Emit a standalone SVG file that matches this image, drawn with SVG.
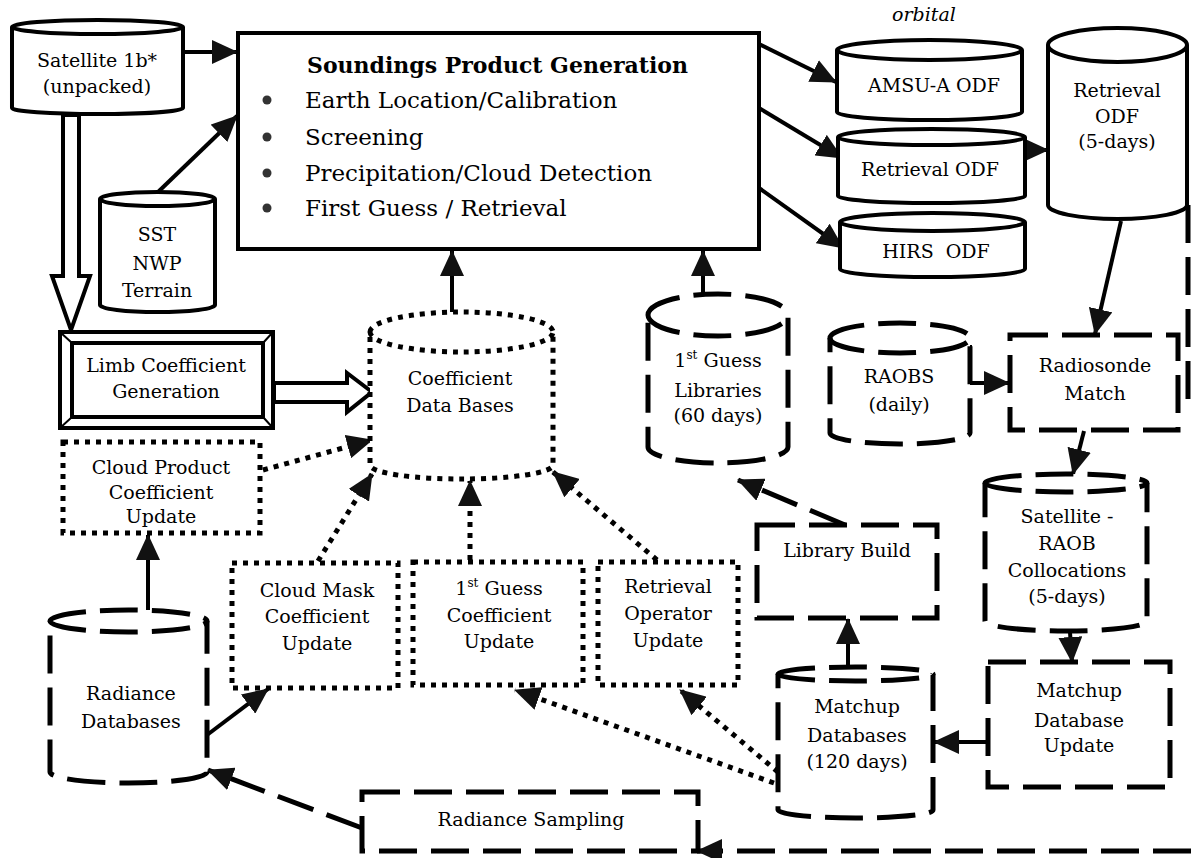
<svg xmlns="http://www.w3.org/2000/svg" width="1191" height="858" viewBox="0 0 1191 858">
  <defs>
    <marker id="ah" markerUnits="userSpaceOnUse" markerWidth="26" markerHeight="24" refX="25" refY="12" orient="auto">
      <path d="M0,0 L26,12 L0,24 Z" fill="#111"/>
    </marker>
    <style>
      .box { fill: #fff; stroke: #000; stroke-width: 4; }
      .solid { fill: none; stroke: #000; stroke-width: 4; }
      .dash { fill: none; stroke: #000; stroke-width: 5; stroke-dasharray: 38 14; }
      .dashbox { fill: #fff; stroke: #000; stroke-width: 5; stroke-dasharray: 38 14; }
      .dot { fill: none; stroke: #000; stroke-width: 5; stroke-dasharray: 5 6; }
      .dotbox { fill: #fff; stroke: #000; stroke-width: 5; stroke-dasharray: 5 6; }
      .hollow { fill: #fff; stroke: #000; stroke-width: 4; stroke-linejoin: miter; }
      text { font-family: "DejaVu Serif", "Liberation Serif", serif; font-size: 19px; text-anchor: middle; fill: #000; }
      .title { font-size: 22px; font-weight: bold; text-anchor: start; }
      .item { font-size: 23px; text-anchor: start; }
      .sup { font-size: 12px; }
    </style>
  </defs>

  <rect width="1191" height="858" fill="#fff"/>

  <!-- data flow connectors -->
  <g id="connectors">
    <line class="solid" x1="184" y1="52" x2="237" y2="52" marker-end="url(#ah)"/>
    <line class="solid" x1="157" y1="193" x2="237" y2="116" marker-end="url(#ah)"/>
    <line class="solid" x1="452" y1="312" x2="452" y2="251" marker-end="url(#ah)"/>
    <line class="solid" x1="703" y1="294" x2="703" y2="251" marker-end="url(#ah)"/>
    <line class="solid" x1="759" y1="44" x2="836" y2="82" marker-end="url(#ah)"/>
    <line class="solid" x1="759" y1="108" x2="842" y2="158" marker-end="url(#ah)"/>
    <line class="solid" x1="759" y1="188" x2="843" y2="248" marker-end="url(#ah)"/>
    <line class="solid" x1="1025" y1="150" x2="1048" y2="150" marker-end="url(#ah)"/>
    <line class="solid" x1="1121" y1="221" x2="1095" y2="334" marker-end="url(#ah)"/>
    <polyline class="solid" points="970,345 970,383 1009,383" marker-end="url(#ah)"/>
    <line class="solid" x1="1084" y1="431" x2="1073" y2="474" marker-end="url(#ah)"/>
    <line class="solid" x1="1070" y1="632" x2="1072" y2="662" marker-end="url(#ah)"/>
    <line class="solid" x1="988" y1="742" x2="934" y2="742" marker-end="url(#ah)"/>
    <line class="solid" x1="848" y1="667" x2="848" y2="619" marker-end="url(#ah)"/>
    <line class="dash" x1="845" y1="525" x2="738" y2="480" marker-end="url(#ah)"/>
    <line class="dot" x1="774" y1="783" x2="515" y2="690" marker-end="url(#ah)"/>
    <line class="dot" x1="778" y1="772" x2="680" y2="690" marker-end="url(#ah)"/>
    <line class="dot" x1="657" y1="560" x2="553" y2="472" marker-end="url(#ah)"/>
    <line class="dot" x1="470" y1="560" x2="470" y2="481" marker-end="url(#ah)"/>
    <line class="dot" x1="318" y1="561" x2="372" y2="474" marker-end="url(#ah)"/>
    <line class="dot" x1="263" y1="470" x2="372" y2="440" marker-end="url(#ah)"/>
    <line class="solid" x1="207" y1="735" x2="268" y2="689" marker-end="url(#ah)"/>
    <line class="solid" x1="148" y1="610" x2="148" y2="535" marker-end="url(#ah)"/>
    <line class="dash" x1="362" y1="828" x2="208" y2="770" marker-end="url(#ah)"/>
    <path class="dash" d="M1188,205 V405"/>
    <line class="dash" x1="1191" y1="851" x2="697" y2="851" marker-end="url(#ah)"/>
  </g>

  <g id="satellite-1b">
    <path class="box" d="M12,27 A85.5,7 0 0 1 183,27 V108 A85.5,6 0 0 1 12,108 Z"/>
    <path class="solid" d="M12,27 A85.5,7 0 0 0 183,27"/>
    <text x="97" y="67">Satellite 1b*</text>
    <text x="97" y="93">(unpacked)</text>
  </g>
  <polygon id="sat-to-limb" class="hollow" points="63,115 63,276 52,276 71,330 90,276 79,276 79,115"/>

  <g id="soundings">
    <rect class="box" x="238" y="33" width="521" height="216"/>
    <text class="title" x="307" y="73">Soundings Product Generation</text>
    <circle cx="267" cy="100" r="4.5" fill="#333"/>
    <circle cx="267" cy="137" r="4.5" fill="#333"/>
    <circle cx="267" cy="173" r="4.5" fill="#333"/>
    <circle cx="267" cy="208" r="4.5" fill="#333"/>
    <text class="item" x="305" y="108">Earth Location/Calibration</text>
    <text class="item" x="305" y="145">Screening</text>
    <text class="item" x="305" y="181">Precipitation/Cloud Detection</text>
    <text class="item" x="305" y="216">First Guess / Retrieval</text>
  </g>

  <g id="sst-nwp-terrain">
    <path class="box" d="M100,199 A57.5,7 0 0 1 215,199 V305 A57.5,7 0 0 1 100,305 Z"/>
    <path class="solid" d="M100,199 A57.5,7 0 0 0 215,199"/>
    <text x="157" y="241" font-size="18">SST</text>
    <text x="157" y="270" font-size="18">NWP</text>
    <text x="157" y="297" font-size="17">Terrain</text>
  </g>

  <g id="orbital-label">
    <text x="924" y="21" font-size="16" font-style="italic">orbital</text>
  </g>

  <g id="amsu-a-odf">
    <path class="box" d="M837,50 A92.5,10 0 0 1 1022,50 V112 A92.5,8 0 0 1 837,112 Z"/>
    <path class="solid" d="M837,50 A92.5,10 0 0 0 1022,50"/>
    <text x="934" y="92" font-size="21">AMSU-A ODF</text>
  </g>

  <g id="retrieval-odf">
    <path class="box" d="M838,137 A93.5,8 0 0 1 1025,137 V196 A93.5,7 0 0 1 838,196 Z"/>
    <path class="solid" d="M838,137 A93.5,8 0 0 0 1025,137"/>
    <text x="930" y="176" font-size="17">Retrieval ODF</text>
  </g>

  <g id="hirs-odf">
    <path class="box" d="M840,222 A92.5,9 0 0 1 1025,222 V269 A92.5,8 0 0 1 840,269 Z"/>
    <path class="solid" d="M840,222 A92.5,9 0 0 0 1025,222"/>
    <text x="936" y="258" font-size="21" xml:space="preserve">HIRS  ODF</text>
  </g>

  <g id="retrieval-odf-5days">
    <path class="box" d="M1048,45 A69.5,17 0 0 1 1187,45 V205 A69.5,14 0 0 1 1048,205 Z"/>
    <path class="solid" d="M1048,45 A69.5,17 0 0 0 1187,45"/>
    <text x="1117" y="97">Retrieval</text>
    <text x="1117" y="123">ODF</text>
    <text x="1117" y="148">(5-days)</text>
  </g>

  <g id="limb-coefficient">
    <rect class="box" x="60" y="332" width="213" height="96" stroke-width="5"/>
    <rect class="box" x="72" y="343" width="191" height="74"/>
    <path d="M60,332 L72,343 M273,332 L263,343 M60,428 L72,417 M273,428 L263,417" stroke="#000" stroke-width="2"/>
    <text x="166" y="372" font-size="16">Limb Coefficient</text>
    <text x="166" y="398" font-size="18">Generation</text>
  </g>
  <polygon id="limb-to-coeff" class="hollow" points="274,383 347,383 347,373 372,392 347,412 347,402 274,402"/>

  <g id="coefficient-databases">
    <path class="dotbox" d="M370,332 A91.5,20 0 0 1 553,332 V465 A91.5,14 0 0 1 370,465 Z"/>
    <path class="dot" d="M370,332 A91.5,20 0 0 0 553,332"/>
    <text x="460" y="385">Coefficient</text>
    <text x="460" y="412">Data Bases</text>
  </g>

  <g id="first-guess-libraries">
    <path class="dashbox" d="M648,315 A70,21 0 0 1 788,315 V447 A70,16 0 0 1 648,447 Z"/>
    <path class="dash" d="M648,315 A70,21 0 0 0 788,315"/>
    <text x="718" y="367">1<tspan class="sup" dy="-8">st</tspan><tspan dy="8"> Guess</tspan></text>
    <text x="718" y="397">Libraries</text>
    <text x="718" y="422">(60 days)</text>
  </g>

  <g id="raobs">
    <path class="dashbox" d="M830,338 A70,15 0 0 1 970,338 V433 A70,11 0 0 1 830,433 Z"/>
    <path class="dash" d="M830,338 A70,15 0 0 0 970,338"/>
    <text x="899" y="383" font-size="20">RAOBS</text>
    <text x="899" y="411" font-size="20">(daily)</text>
  </g>

  <g id="radiosonde-match">
    <rect class="dashbox" x="1010" y="335" width="168" height="95"/>
    <text x="1095" y="372">Radiosonde</text>
    <text x="1095" y="400">Match</text>
  </g>

  <g id="satellite-raob-collocations">
    <path class="dashbox" d="M985,483 A81,9 0 0 1 1147,483 V621 A81,10 0 0 1 985,621 Z"/>
    <path class="dash" d="M985,483 A81,9 0 0 0 1147,483"/>
    <text x="1067" y="523">Satellite -</text>
    <text x="1067" y="550">RAOB</text>
    <text x="1067" y="577">Collocations</text>
    <text x="1067" y="603">(5-days)</text>
  </g>

  <g id="library-build">
    <rect class="dashbox" x="757" y="525" width="180" height="93"/>
    <text x="847" y="557">Library Build</text>
  </g>

  <g id="matchup-database-update">
    <rect class="dashbox" x="988" y="662" width="182" height="125"/>
    <text x="1079" y="697">Matchup</text>
    <text x="1079" y="727">Database</text>
    <text x="1079" y="752">Update</text>
  </g>

  <g id="matchup-databases">
    <path class="dashbox" d="M778,674 A77.5,7 0 0 1 933,674 V810 A77.5,8 0 0 1 778,810 Z"/>
    <path class="dash" d="M778,674 A77.5,7 0 0 0 933,674"/>
    <text x="857" y="713">Matchup</text>
    <text x="857" y="742">Databases</text>
    <text x="857" y="768">(120 days)</text>
  </g>

  <g id="cloud-product-update">
    <rect class="dotbox" x="63" y="442" width="197" height="91"/>
    <text x="161" y="474" font-size="17">Cloud Product</text>
    <text x="161" y="499" font-size="17">Coefficient</text>
    <text x="161" y="523" font-size="17">Update</text>
  </g>

  <g id="cloud-mask-update">
    <rect class="dotbox" x="232" y="563" width="166" height="125"/>
    <text x="317" y="597">Cloud Mask</text>
    <text x="317" y="623">Coefficient</text>
    <text x="317" y="650">Update</text>
  </g>

  <g id="first-guess-coefficient-update">
    <rect class="dotbox" x="413" y="562" width="170" height="123"/>
    <text x="499" y="595">1<tspan class="sup" dy="-8">st</tspan><tspan dy="8"> Guess</tspan></text>
    <text x="499" y="622">Coefficient</text>
    <text x="499" y="648">Update</text>
  </g>

  <g id="retrieval-operator-update">
    <rect class="dotbox" x="598" y="562" width="140" height="123"/>
    <text x="668" y="593">Retrieval</text>
    <text x="668" y="620">Operator</text>
    <text x="668" y="647">Update</text>
  </g>

  <g id="radiance-databases">
    <path class="dashbox" d="M50,621 A78.5,11 0 0 1 207,621 V772 A78.5,11 0 0 1 50,772 Z"/>
    <path class="dash" d="M50,621 A78.5,11 0 0 0 207,621"/>
    <text x="131" y="700">Radiance</text>
    <text x="131" y="728">Databases</text>
  </g>

  <g id="radiance-sampling">
    <rect class="dashbox" x="362" y="792" width="336" height="59"/>
    <text x="531" y="826" font-size="18">Radiance Sampling</text>
  </g>
</svg>
